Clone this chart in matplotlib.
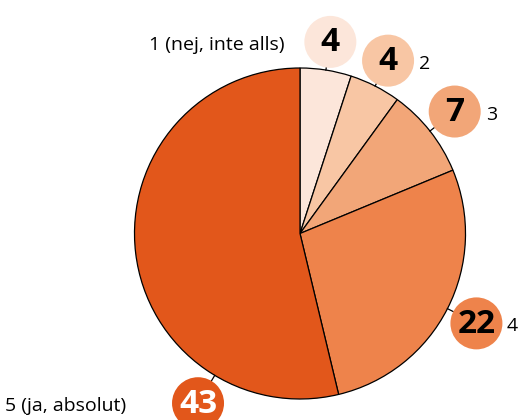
import numpy as np
import matplotlib
matplotlib.use("Agg")
import matplotlib.pyplot as plt
from matplotlib.patches import Circle

categories = ["1 (nej, inte alls)", "2", "3", "4", "5 (ja, absolut)"]
values = [4, 4, 7, 22, 43]
colors = ["#fce6da", "#f8c6a4", "#f2a678", "#ee834b", "#e2571b"]
num_colors = ["black", "black", "black", "black", "white"]

W, H = 521, 420
fig = plt.figure(figsize=(W / 100, H / 100), dpi=100)
ax = fig.add_axes([0, 0, 1, 1])

cx, cy, R = 300, H - 233.5, 165.5
wedges, _ = ax.pie(values, colors=colors, startangle=90, counterclock=False,
                   center=(cx, cy), radius=R, frame=True,
                   wedgeprops=dict(edgecolor="black", linewidth=0.9))
ax.set_xlim(0, W)
ax.set_ylim(0, H)
ax.set_aspect("equal")
ax.axis("off")

# label placement: angle override for last slice, distance of bubble centre
angle_override = [None, None, None, None, -121]
bubble_r = [194, 194, 197, 198, 198]
text_off = [-46, 31, 31, 30, -72]

for i, w in enumerate(wedges):
    mid = (w.theta1 + w.theta2) / 2
    ang = angle_override[i] if angle_override[i] is not None else mid
    a = np.deg2rad(ang)
    d = np.array([np.cos(a), np.sin(a)])
    p0 = np.array([cx, cy]) + d * R
    p1 = np.array([cx, cy]) + d * (R + 7)
    ax.plot([p0[0], p1[0]], [p0[1], p1[1]], color="black", lw=0.9)
    bc = np.array([cx, cy]) + d * bubble_r[i]
    ax.add_patch(Circle(bc, 26, facecolor=colors[i], edgecolor="none", zorder=3))
    ax.text(bc[0], bc[1] - 1, str(values[i]), ha="center", va="center",
            fontsize=24, fontweight="bold", color=num_colors[i],
            family="Open Sans", zorder=4)
    ha = "left" if text_off[i] > 0 else "right"
    ax.text(bc[0] + text_off[i], bc[1] - 3, categories[i], ha=ha, va="center",
            fontsize=14, family="Open Sans", color="black")

fig.savefig("out.png", dpi=100)
